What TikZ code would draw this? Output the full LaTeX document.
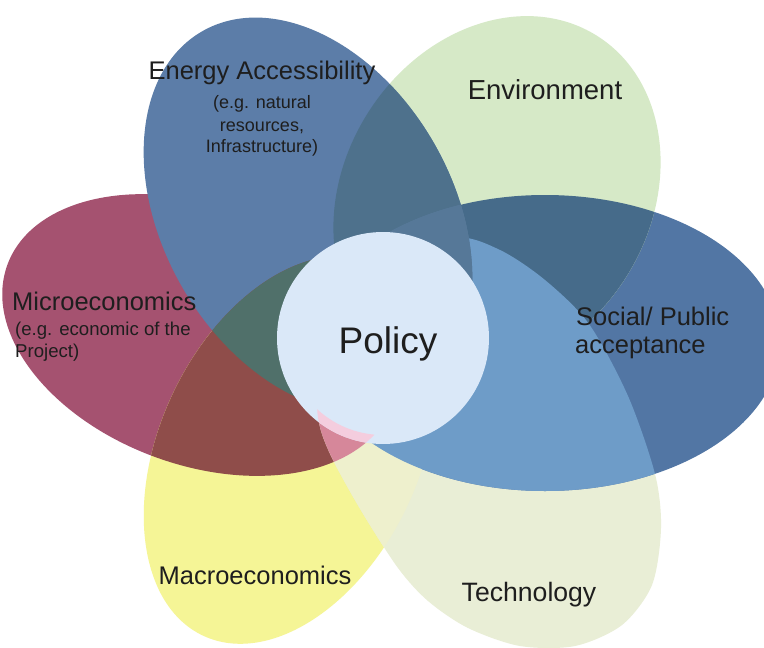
\documentclass[tikz,border=0pt]{standalone}
\usepackage{fontspec}
\setmainfont{Liberation Sans}
\begin{document}
\begin{tikzpicture}[x=1pt,y=-1pt]
\definecolor{cM}{RGB}{165,82,112}
\definecolor{cE}{RGB}{92,125,168}
\definecolor{cG}{RGB}{214,233,199}
\definecolor{cS}{RGB}{82,118,164}
\definecolor{cT}{RGB}{233,238,214}
\definecolor{cY}{RGB}{245,245,150}
\definecolor{cYM}{RGB}{143,77,74}
\definecolor{cYE}{RGB}{80,112,106}
\definecolor{cTM}{RGB}{214,135,154}
\definecolor{cTY}{RGB}{238,240,205}
\definecolor{cST}{RGB}{110,156,200}
\definecolor{cES}{RGB}{90,124,158}
\definecolor{cGS}{RGB}{70,107,138}
\definecolor{cGE}{RGB}{78,113,140}
\definecolor{cGES}{RGB}{86,120,152}
\definecolor{cP}{RGB}{218,232,248}
\definecolor{cPink}{RGB}{244,205,222}
\definecolor{cTxt}{RGB}{30,30,30}
\tikzset{
  lbl/.style={text=cTxt, inner sep=0pt, anchor=base},
  big/.style={lbl, font=\fontsize{25.5}{30}\selectfont},
  small/.style={lbl, font=\fontsize{18}{21}\selectfont}
}
\newcommand\petM{(200,335) ellipse [x radius=205pt, y radius=130pt, rotate=-20]}
\newcommand\petE{(308,215) ellipse [x radius=212pt, y radius=145pt, rotate=120]}
\newcommand\petG{(497,195) ellipse [x radius=188pt, y radius=153pt, rotate=58]}
\newcommand\petS{(545,343) ellipse [x radius=235pt, y radius=148pt]}
\newcommand\petT{plot[smooth cycle] coordinates {(455,238) (500,250) (545,280) (589,324) (628,396) (655,474) (661,528) (652,585) (622,625) (575,646) (520,646) (468,628) (428,601) (398,568) (362,512) (333,460) (320,427) (318,395) (335,325) (390,268)}}
\newcommand\petY{(290,450) ellipse [x radius=205pt, y radius=130pt, rotate=65]}
\useasboundingbox (0,0) rectangle (764,648);
\clip (0,0) rectangle (764,648);
\fill[white] (0,0) rectangle (764,648);
% base petals
\fill[cM] \petM;
\fill[cY] \petY;
\fill[cT] \petT;
\fill[cS] \petS;
\fill[cG] \petG;
\fill[cE] \petE;
% overlaps
\begin{scope}\clip \petY; \fill[cYM] \petM; \end{scope}
\begin{scope}\clip \petY; \fill[cYE] \petE; \end{scope}
\begin{scope}\clip \petT; \fill[cTY] \petY; \end{scope}
\begin{scope}\clip \petT; \fill[cTM] \petM; \end{scope}
\begin{scope}\clip \petG; \fill[cGS] \petS; \end{scope}
\begin{scope}\clip \petG; \fill[cGE] \petE; \end{scope}
\begin{scope}\clip \petS; \fill[cST] \petT; \end{scope}
\begin{scope}\clip \petS; \fill[cES] \petE; \end{scope}
\begin{scope}\clip \petG; \clip \petE; \fill[cGES] \petS; \end{scope}
% centre
\node[circle, fill=cP, minimum size=212pt, inner sep=0pt] (policy) at (383,338) {};
\begin{scope}
  \clip \petT; \clip \petM;
  \fill[cPink, even odd rule] (383,338) circle (106pt) (383,338) circle (97pt);
\end{scope}
\node[lbl, font=\fontsize{37}{40}\selectfont] (policytxt) at (388,353) {Policy};
% labels
\node[big] (ea) at (262,79) {Energy Accessibility};
\node[small] (ea1) at (262,108) {(e.g. natural};
\node[small] (ea2) at (262,131) {resources,};
\node[small] (ea3) at (262,152) {Infrastructure)};
\node[big, font=\fontsize{27.5}{32}\selectfont] (env) at (545,99) {Environment};
\node[big, anchor=base west] (soc1) at (576,325) {Social/ Public};
\node[big, anchor=base west] (soc2) at (575,353) {acceptance};
\node[big, anchor=base west] (mic) at (12,310) {Microeconomics};
\node[small, anchor=base west, font=\fontsize{18.6}{21}\selectfont] (mic1) at (15,335) {(e.g. economic of the};
\node[small, anchor=base west, font=\fontsize{18.6}{21}\selectfont] (mic2) at (15,357) {Project)};
\node[big] (mac) at (255,584) {Macroeconomics};
\node[big, font=\fontsize{26.6}{31}\selectfont] (tec) at (529,601) {Technology};
\end{tikzpicture}
\end{document}
